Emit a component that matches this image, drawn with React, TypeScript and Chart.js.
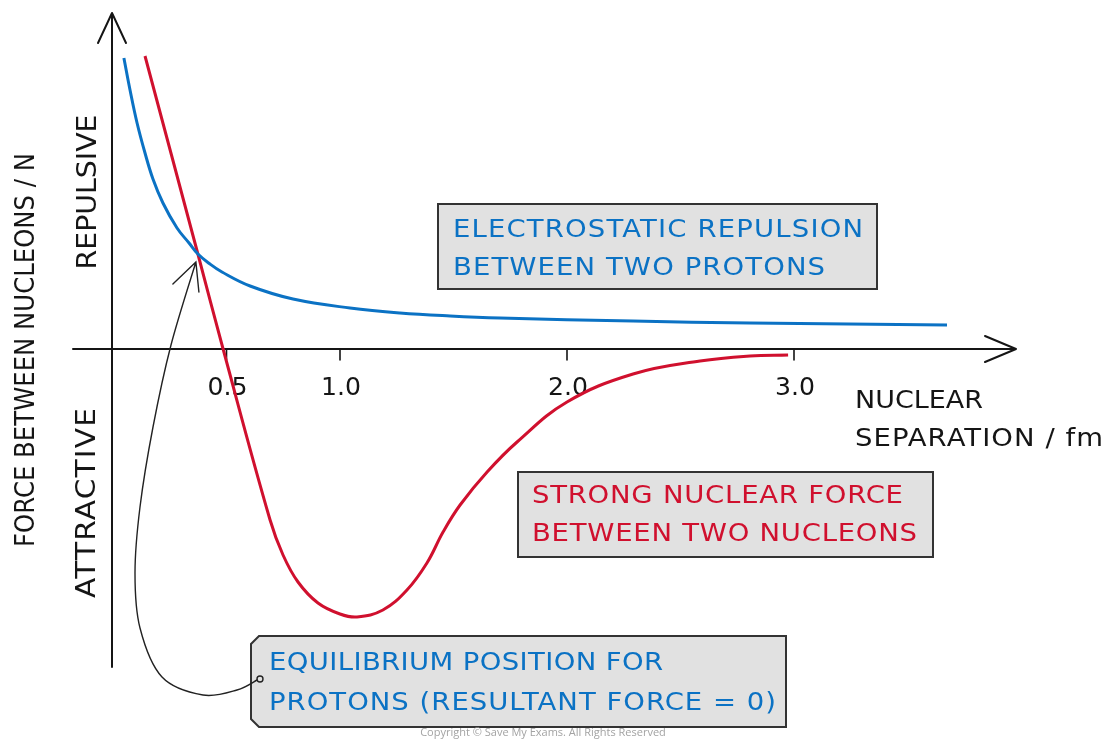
import React, { useEffect, useRef } from "react";
import { Chart, registerables } from "chart.js";

Chart.register(...registerables);

// Nuclear separation (fm) and force (arbitrary units, + repulsive / - attractive)
const blueSeparation = [0.048, 0.075, 0.106, 0.141, 0.176, 0.22, 0.282, 0.335, 0.374, 0.427, 0.48, 0.604, 0.793, 1.044, 1.264, 1.485, 1.705, 2.291, 2.806, 3.674];
const blueForce = [2.91, 2.59, 2.26, 1.96, 1.7, 1.46, 1.21, 1.06, 0.95, 0.85, 0.77, 0.63, 0.5, 0.41, 0.36, 0.33, 0.31, 0.28, 0.26, 0.24];

const redSeparation = [0.141, 0.374, 0.485, 0.692, 0.749, 0.815, 0.903, 1.0, 1.075, 1.189, 1.295, 1.383, 1.454, 1.529, 1.648, 1.78, 2.0, 2.291, 2.586, 2.806, 2.974];
const redForce = [2.93, 0.95, 0.0, -1.71, -2.06, -2.33, -2.54, -2.65, -2.68, -2.61, -2.41, -2.14, -1.83, -1.56, -1.23, -0.93, -0.53, -0.25, -0.12, -0.07, -0.06];

const tickValues = [0.5, 1.0, 2.0, 3.0];
const tickLabels = ["0.5", "1.0", "2.0", "3.0"];

const equilibriumPoint = { x: 0.374, y: 0.95 };

const BLUE = "#0b72c4";
const RED = "#d0102e";
const INK = "#151515";
const FONT = '"DejaVu Sans"';

function fitText(ctx: CanvasRenderingContext2D, text: string, x: number, yc: number, width: number, size: number, color: string) {
  ctx.save();
  ctx.font = `${size}px ${FONT}`;
  (ctx as any).letterSpacing = "0px";
  const w0 = ctx.measureText(text).width;
  let sx = width / w0;
  let s = 0;
  if (sx > 1.1) {
    sx = 1.1;
    s = text.length > 1 ? (width - w0 * sx) / ((text.length - 1) * sx) : 0;
  }
  ctx.translate(x, yc + size * 0.364);
  ctx.scale(sx, 1);
  (ctx as any).letterSpacing = `${s}px`;
  ctx.fillStyle = color;
  ctx.textAlign = "left";
  ctx.textBaseline = "alphabetic";
  ctx.fillText(text, 0, 0);
  ctx.restore();
}

function rotatedText(ctx: CanvasRenderingContext2D, text: string, cx: number, cy: number, length: number, size: number, color: string) {
  ctx.save();
  ctx.translate(cx, cy);
  ctx.rotate(-Math.PI / 2);
  fitText(ctx, text, -length / 2, 0, length, size, color);
  ctx.restore();
}

function box(ctx: CanvasRenderingContext2D, x1: number, y1: number, x2: number, y2: number, chamfer = 0) {
  ctx.save();
  ctx.beginPath();
  if (chamfer > 0) {
    ctx.moveTo(x1 + chamfer, y1);
    ctx.lineTo(x2, y1);
    ctx.lineTo(x2, y2);
    ctx.lineTo(x1 + chamfer, y2);
    ctx.lineTo(x1, y2 - chamfer);
    ctx.lineTo(x1, y1 + chamfer);
    ctx.closePath();
  } else {
    ctx.rect(x1, y1, x2 - x1, y2 - y1);
  }
  ctx.fillStyle = "#e1e1e1";
  ctx.fill();
  ctx.lineWidth = 2;
  ctx.strokeStyle = "#333333";
  ctx.stroke();
  ctx.restore();
}

function curveThrough(ctx: CanvasRenderingContext2D, pts: number[][]) {
  ctx.moveTo(pts[0][0], pts[0][1]);
  for (let i = 0; i < pts.length - 1; i++) {
    const p0 = pts[Math.max(0, i - 1)];
    const p1 = pts[i];
    const p2 = pts[i + 1];
    const p3 = pts[Math.min(pts.length - 1, i + 2)];
    const c1x = p1[0] + (p2[0] - p0[0]) / 6;
    const c1y = p1[1] + (p2[1] - p0[1]) / 6;
    const c2x = p2[0] - (p3[0] - p1[0]) / 6;
    const c2y = p2[1] - (p3[1] - p1[1]) / 6;
    ctx.bezierCurveTo(c1x, c1y, c2x, c2y, p2[0], p2[1]);
  }
}

const decorPlugin = {
  id: "decor",
  beforeDatasetsDraw(chart: any) {
    const ctx: CanvasRenderingContext2D = chart.ctx;
    const xs = chart.scales.x;
    const ys = chart.scales.y;
    const x0 = xs.getPixelForValue(0) - 1;
    const y0 = ys.getPixelForValue(0);
    ctx.save();
    ctx.strokeStyle = INK;
    ctx.lineWidth = 2;
    ctx.lineCap = "round";
    ctx.lineJoin = "round";
    // y axis
    ctx.beginPath();
    ctx.moveTo(x0, 667);
    ctx.lineTo(x0, 13);
    ctx.moveTo(x0 - 14, 43);
    ctx.lineTo(x0, 13);
    ctx.lineTo(x0 + 14, 43);
    ctx.stroke();
    // x axis
    ctx.beginPath();
    ctx.moveTo(73, y0);
    ctx.lineTo(1016, y0);
    ctx.moveTo(985, y0 - 13);
    ctx.lineTo(1016, y0);
    ctx.lineTo(985, y0 + 13);
    ctx.stroke();
    // ticks
    ctx.lineWidth = 1.6;
    ctx.beginPath();
    tickValues.forEach((v) => {
      const px = xs.getPixelForValue(v);
      ctx.moveTo(px, y0);
      ctx.lineTo(px, y0 + 11);
    });
    ctx.stroke();
    ctx.restore();
    tickValues.forEach((v, i) => {
      const px = xs.getPixelForValue(v);
      fitText(ctx, tickLabels[i], px - 19, y0 + 37, 40, 24, INK);
    });

    // axis titles
    rotatedText(ctx, "REPULSIVE", 86, 192, 155, 27, INK);
    rotatedText(ctx, "ATTRACTIVE", 85, 503, 190, 27, INK);
    rotatedText(ctx, "FORCE BETWEEN NUCLEONS / N", 25, 350, 394, 26, INK);
    fitText(ctx, "NUCLEAR", 855, 399, 128, 25, INK);
    fitText(ctx, "SEPARATION / fm", 855, 437, 248, 25, INK);
  },
  afterDatasetsDraw(chart: any) {
    const ctx: CanvasRenderingContext2D = chart.ctx;
    const xs = chart.scales.x;
    const ys = chart.scales.y;

    // label boxes
    box(ctx, 438, 204, 877, 289);
    fitText(ctx, "ELECTROSTATIC REPULSION", 453, 228, 410, 25, BLUE);
    fitText(ctx, "BETWEEN TWO PROTONS", 453, 266, 372, 25, BLUE);

    box(ctx, 518, 472, 933, 557);
    fitText(ctx, "STRONG NUCLEAR FORCE", 532, 494, 371, 25, RED);
    fitText(ctx, "BETWEEN TWO NUCLEONS", 532, 532, 385, 25, RED);

    box(ctx, 251, 636, 786, 727, 8);
    fitText(ctx, "EQUILIBRIUM POSITION FOR", 269, 661, 394, 25, BLUE);
    fitText(ctx, "PROTONS (RESULTANT FORCE = 0)", 269, 701, 507, 25, BLUE);

    // annotation arrow from equilibrium box to crossing point
    const tx = xs.getPixelForValue(equilibriumPoint.x) - 2;
    const ty = ys.getPixelForValue(equilibriumPoint.y) + 8;
    ctx.save();
    ctx.strokeStyle = "#222";
    ctx.lineWidth = 1.4;
    ctx.lineCap = "round";
    ctx.beginPath();
    curveThrough(ctx, [
      [257, 680],
      [237, 690],
      [203, 695],
      [162, 677],
      [140, 628],
      [135, 573],
      [140, 507],
      [153, 427],
      [171, 345],
      [tx, ty],
    ]);
    ctx.moveTo(tx - 23, ty + 22);
    ctx.lineTo(tx, ty);
    ctx.lineTo(tx + 3, ty + 30);
    ctx.stroke();
    ctx.beginPath();
    ctx.arc(260, 679, 3, 0, Math.PI * 2);
    ctx.stroke();
    ctx.restore();

    // copyright
    ctx.save();
    ctx.font = `11px "Open Sans"`;
    ctx.fillStyle = "#a3a3a3";
    ctx.textAlign = "center";
    ctx.textBaseline = "middle";
    ctx.fillText("Copyright © Save My Exams. All Rights Reserved", 543, 733);
    ctx.restore();
  },
};

export default function App() {
  const ref = useRef<HTMLCanvasElement | null>(null);
  useEffect(() => {
    if (!ref.current) return;
    const chart = new Chart(ref.current, {
      type: "line",
      data: {
        datasets: [
          {
            label: "Electrostatic repulsion",
            data: blueSeparation.map((x, i) => ({ x, y: blueForce[i] })),
            borderColor: BLUE,
            borderWidth: 3,
            pointRadius: 0,
            tension: 0.4,
            fill: false,
          },
          {
            label: "Strong nuclear force",
            data: redSeparation.map((x, i) => ({ x, y: redForce[i] })),
            borderColor: RED,
            borderWidth: 3,
            pointRadius: 0,
            tension: 0.4,
            fill: false,
          },
        ],
      },
      options: {
        responsive: false,
        animation: false,
        events: [],
        layout: { padding: { left: 113, right: 86, top: 9, bottom: 72 } },
        plugins: { legend: { display: false }, tooltip: { enabled: false }, title: { display: false } },
        scales: {
          x: { type: "linear", min: 0, max: 4, display: false },
          y: { type: "linear", min: -3.2, max: 3.4, display: false },
        },
      },
      plugins: [decorPlugin],
    });
    return () => chart.destroy();
  }, []);
  return (
    <div style={{ position: "fixed", left: 0, top: 0, width: 1107, height: 741, background: "#fff" }}>
      <canvas ref={ref} width={1107} height={741} style={{ display: "block" }} />
    </div>
  );
}
